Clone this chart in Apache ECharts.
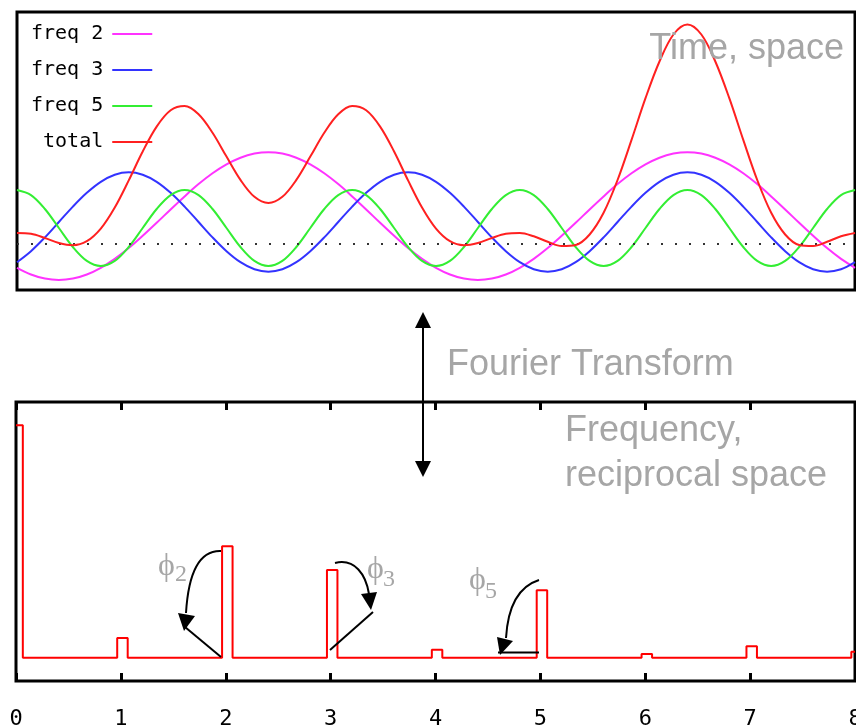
<!DOCTYPE html>
<html><head><meta charset="utf-8">
<script src="https://cdn.jsdelivr.net/npm/echarts@6/dist/echarts.min.js"></script>
<style>html,body{margin:0;padding:0;background:#fff}#c{width:856px;height:727px}</style>
</head><body><div id="c"></div>
<script>
// ---- data (top panel: time / space signals, sampled at 61 points over one period) ----
const sampleCount = 60;
const legendNames = ['freq 2', 'freq 3', 'freq 5', 'total'];
const freq2Values = [-0.243,-0.310,-0.351,-0.365,-0.351,-0.310,-0.243,-0.154,-0.046,0.077,0.207,0.341,0.471,0.594,0.702,0.791,0.858,0.899,0.913,0.899,0.858,0.791,0.702,0.594,0.471,0.341,0.207,0.077,-0.046,-0.154,
  -0.243,-0.310,-0.351,-0.365,-0.351,-0.310,-0.243,-0.154,-0.046,0.077,0.207,0.341,0.471,0.594,0.702,0.791,0.858,0.899,0.913,0.899,0.858,0.791,0.702,0.594,0.471,0.341,0.207,0.077,-0.046,-0.154,-0.243];
const freq3Values = [-0.187,-0.077,0.061,0.215,0.369,0.507,0.617,0.688,0.712,0.688,0.617,0.507,0.369,0.215,0.061,-0.077,-0.187,-0.258,-0.282,-0.258,
  -0.187,-0.077,0.061,0.215,0.369,0.507,0.617,0.688,0.712,0.688,0.617,0.507,0.369,0.215,0.061,-0.077,-0.187,-0.258,-0.282,-0.258,
  -0.187,-0.077,0.061,0.215,0.369,0.507,0.617,0.688,0.712,0.688,0.617,0.507,0.369,0.215,0.061,-0.077,-0.187,-0.258,-0.282,-0.258,-0.187];
const freq5Values = [0.535,0.484,0.345,0.155,-0.035,-0.174,-0.225,-0.174,-0.035,0.155,0.345,0.484,
  0.535,0.484,0.345,0.155,-0.035,-0.174,-0.225,-0.174,-0.035,0.155,0.345,0.484,
  0.535,0.484,0.345,0.155,-0.035,-0.174,-0.225,-0.174,-0.035,0.155,0.345,0.484,
  0.535,0.484,0.345,0.155,-0.035,-0.174,-0.225,-0.174,-0.035,0.155,0.345,0.484,
  0.535,0.484,0.345,0.155,-0.035,-0.174,-0.225,-0.174,-0.035,0.155,0.345,0.484,0.535];
const totalValues = [0.105,0.097,0.055,0.005,-0.017,0.023,0.149,0.360,0.631,0.920,1.169,1.332,1.375,1.293,1.108,0.869,0.636,0.467,0.406,0.467,
  0.636,0.869,1.108,1.293,1.375,1.332,1.169,0.920,0.631,0.360,0.149,0.023,-0.017,0.005,0.055,0.097,0.105,0.072,0.017,-0.026,
  -0.015,0.090,0.307,0.635,1.036,1.453,1.820,2.090,2.190,2.090,1.820,1.453,1.036,0.635,0.307,0.090,-0.015,-0.026,0.017,0.072,0.105];

// ---- data (bottom panel: spectrum) ----
const spectrumFreqs = [0, 1, 2, 3, 4, 5, 6, 7, 8];
const spectrumAmps = [1.0, 0.085, 0.48, 0.377, 0.034, 0.29, 0.016, 0.05, 0.026];
const freqTickLabels = ['0', '1', '2', '3', '4', '5', '6', '7', '8'];

const chart = echarts.init(document.getElementById('c'), null, { renderer: 'canvas' });
const toPairs = arr => arr.map((v, i) => [i / sampleCount, v]);

const specData = [];
spectrumFreqs.forEach((f, k) => {
  const a = spectrumAmps[k];
  const l = Math.max(0, f - 0.035), r = Math.min(8, f + 0.065);
  if (f === 0) specData.push([0, a], [r, a], [r, 0]);
  else if (r >= 8) specData.push([l, 0], [l, a], [8, a]);
  else specData.push([l, 0], [l, a], [r, a], [r, 0]);
});

const colors = ['#ff33ff', '#3333ff', '#33ee33', '#ff2020'];
const topSeries = [freq2Values, freq3Values, freq5Values, totalValues].map((vals, k) => ({
  name: legendNames[k], type: 'line', xAxisIndex: 0, yAxisIndex: 0,
  data: toPairs(vals), smooth: 0.35, symbol: 'none', showSymbol: false,
  lineStyle: { color: colors[k], width: 2 }, itemStyle: { color: colors[k] },
  z: 2 + k
}));
topSeries[0].markLine = {
  silent: true, symbol: 'none', label: { show: false },
  lineStyle: { type: [2, 12], color: '#333', width: 2 },
  data: [{ yAxis: 0 }]
};

const gray = '#a6a6a6';
const sans = '"Liberation Sans", Arial, sans-serif';
const serif = '"Liberation Serif", "DejaVu Serif", serif';
const arrowStroke = { stroke: '#000', lineWidth: 2, fill: null };
const tickStyle = { inside: true, length: 8, lineStyle: { color: '#000', width: 3 } };

const option = {
  animation: false,
  backgroundColor: '#fff',
  grid: [
    { left: 17, right: 1, top: 12, bottom: 437, show: true, borderColor: '#000', borderWidth: 3, outerBoundsMode: 'none', containLabel: false },
    { left: 16, right: 1, top: 402, bottom: 46, show: true, borderColor: '#000', borderWidth: 3, outerBoundsMode: 'none', containLabel: false }
  ],
  xAxis: [
    { gridIndex: 0, type: 'value', min: 0, max: 1, show: false },
    { gridIndex: 1, type: 'value', min: 0, max: 8, interval: 1, position: 'bottom',
      axisLine: { show: false, onZero: false }, splitLine: { show: false },
      axisTick: tickStyle,
      axisLabel: { margin: 27, fontFamily: 'DejaVu Sans Mono', fontSize: 22, color: '#000',
        hideOverlap: false, showMinLabel: true, showMaxLabel: true,
        formatter: v => freqTickLabels[Math.round(v)] } },
    { gridIndex: 1, type: 'value', min: 0, max: 8, interval: 1, position: 'top',
      axisLine: { show: false, onZero: false }, splitLine: { show: false }, axisLabel: { show: false },
      axisTick: tickStyle }
  ],
  yAxis: [
    { gridIndex: 0, type: 'value', min: -0.465, max: 2.315, show: false },
    { gridIndex: 1, type: 'value', min: -0.1, max: 1.1, show: false }
  ],
  legend: {
    data: legendNames, orient: 'vertical', left: 26, top: 19, align: 'right',
    icon: 'rect', itemWidth: 40, itemHeight: 2, itemGap: 16,
    formatter: n => n.padStart(6, ' '),
    textStyle: { fontFamily: 'DejaVu Sans Mono', fontSize: 20, color: '#000', padding: [0, 4, 0, 0] }
  },
  series: topSeries.concat([{
    name: 'spectrum', type: 'line', xAxisIndex: 1, yAxisIndex: 1, data: specData,
    symbol: 'none', showSymbol: false, lineStyle: { color: '#ff0000', width: 2 }, z: 2
  }]),
  graphic: [
    { type: 'text', x: 844, y: 49, style: { text: 'Time, space', font: '36px ' + sans, fill: gray, align: 'right', verticalAlign: 'middle' }, z: 10 },
    { type: 'text', x: 447, y: 365, style: { text: 'Fourier Transform', font: '36px ' + sans, fill: gray, align: 'left', verticalAlign: 'middle' }, z: 10 },
    { type: 'text', x: 565, y: 431, style: { text: 'Frequency,', font: '36px ' + sans, fill: gray, align: 'left', verticalAlign: 'middle' }, z: 10 },
    { type: 'text', x: 565, y: 476, style: { text: 'reciprocal space', font: '36px ' + sans, fill: gray, align: 'left', verticalAlign: 'middle' }, z: 10 },
    // double arrow
    { type: 'line', shape: { x1: 423, y1: 326, x2: 423, y2: 463 }, style: { stroke: '#000', lineWidth: 2 }, z: 10 },
    { type: 'polygon', shape: { points: [[423, 312], [415, 328], [431, 328]] }, style: { fill: '#000' }, z: 10 },
    { type: 'polygon', shape: { points: [[423, 477], [415, 461], [431, 461]] }, style: { fill: '#000' }, z: 10 },
    // phi 2
    { type: 'text', x: 158, y: 567, style: { text: '\u03D5', font: '32px ' + serif, fill: gray, align: 'left', verticalAlign: 'middle' }, z: 10 },
    { type: 'text', x: 175, y: 575, style: { text: '2', font: '24px ' + serif, fill: gray, align: 'left', verticalAlign: 'middle' }, z: 10 },
    { type: 'bezierCurve', shape: { x1: 221, y1: 551, cpx1: 196, cpy1: 550, cpx2: 188, cpy2: 580, x2: 186, y2: 613 }, style: arrowStroke, z: 10 },
    { type: 'polygon', shape: { points: [[178, 613], [195, 616], [184, 631]] }, style: { fill: '#000' }, z: 10 },
    { type: 'line', shape: { x1: 185, y1: 627, x2: 221, y2: 657 }, style: { stroke: '#000', lineWidth: 2 }, z: 10 },
    // phi 3
    { type: 'text', x: 367, y: 570, style: { text: '\u03D5', font: '32px ' + serif, fill: gray, align: 'left', verticalAlign: 'middle' }, z: 10 },
    { type: 'text', x: 383, y: 580, style: { text: '3', font: '24px ' + serif, fill: gray, align: 'left', verticalAlign: 'middle' }, z: 10 },
    { type: 'bezierCurve', shape: { x1: 335, y1: 563, cpx1: 355, cpy1: 558, cpx2: 366, cpy2: 575, x2: 369, y2: 594 }, style: arrowStroke, z: 10 },
    { type: 'polygon', shape: { points: [[361, 594], [377, 592], [371, 610]] }, style: { fill: '#000' }, z: 10 },
    { type: 'line', shape: { x1: 373, y1: 612, x2: 330, y2: 650 }, style: { stroke: '#000', lineWidth: 2 }, z: 10 },
    // phi 5
    { type: 'text', x: 469, y: 581, style: { text: '\u03D5', font: '32px ' + serif, fill: gray, align: 'left', verticalAlign: 'middle' }, z: 10 },
    { type: 'text', x: 485, y: 592, style: { text: '5', font: '24px ' + serif, fill: gray, align: 'left', verticalAlign: 'middle' }, z: 10 },
    { type: 'bezierCurve', shape: { x1: 539, y1: 580, cpx1: 520, cpy1: 586, cpx2: 508, cpy2: 605, x2: 506, y2: 638 }, style: arrowStroke, z: 10 },
    { type: 'polygon', shape: { points: [[497, 637], [513, 641], [500, 655]] }, style: { fill: '#000' }, z: 10 },
    { type: 'line', shape: { x1: 498, y1: 652.5, x2: 539, y2: 652.5 }, style: { stroke: '#000', lineWidth: 2 }, z: 10 }
  ]
};
chart.setOption(option);
</script></body></html>
